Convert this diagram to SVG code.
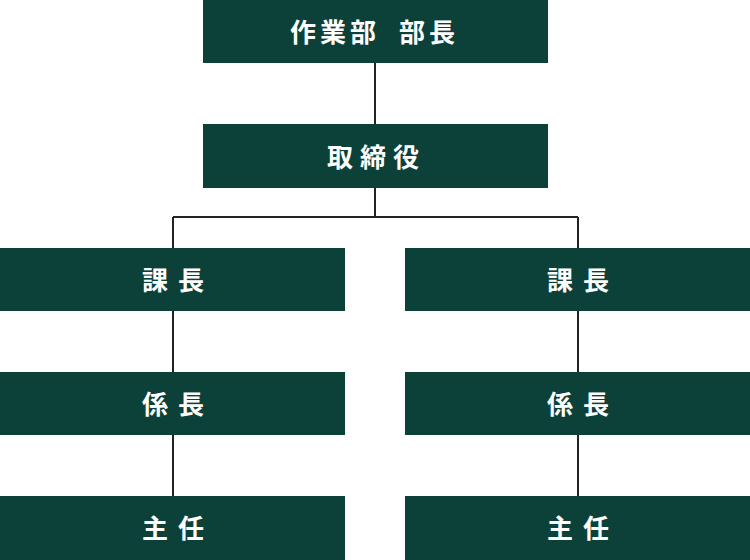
<svg xmlns="http://www.w3.org/2000/svg" width="750" height="560" viewBox="0 0 750 560">
<style>
.box{fill:#0b4139}
.lbl{fill:#ffffff;font-family:"Noto Sans CJK JP","Noto Sans CJK SC",sans-serif;font-weight:bold;font-size:26px;dominant-baseline:central}
.s1{letter-spacing:4px}
.s2{letter-spacing:7px}
.s3{letter-spacing:10px}
.con{stroke:#222222;stroke-width:2;fill:none}
</style>
<rect width="750" height="560" fill="#ffffff"/>
<g id="connectors">
<path class="con" d="M375 63V124M375 188V217M173 217H578M173 217V248M578 217V248M173 311V372M173 435V496M578 311V372M578 435V496"/>
</g>
<g id="n-bucho"><rect class="box" x="203" y="0" width="345" height="63"/><text class="lbl s1" x="290" y="30">作業部 <tspan x="399">部長</tspan></text></g>
<g id="n-torishimari"><rect class="box" x="203" y="124" width="345" height="64"/><text class="lbl s2" x="327" y="155">取締役</text></g>
<g id="n-kacho-l"><rect class="box" x="0" y="248" width="345" height="63"/><text class="lbl s3" x="142" y="278.5">課長</text></g>
<g id="n-kacho-r"><rect class="box" x="405" y="248" width="345" height="63"/><text class="lbl s3" x="547" y="278.5">課長</text></g>
<g id="n-kakaricho-l"><rect class="box" x="0" y="372" width="345" height="63"/><text class="lbl s3" x="142" y="402.5">係長</text></g>
<g id="n-kakaricho-r"><rect class="box" x="405" y="372" width="345" height="63"/><text class="lbl s3" x="547" y="402.5">係長</text></g>
<g id="n-shunin-l"><rect class="box" x="0" y="496" width="345" height="64"/><text class="lbl s3" x="142" y="526.5">主任</text></g>
<g id="n-shunin-r"><rect class="box" x="405" y="496" width="345" height="64"/><text class="lbl s3" x="547" y="526.5">主任</text></g>
</svg>
